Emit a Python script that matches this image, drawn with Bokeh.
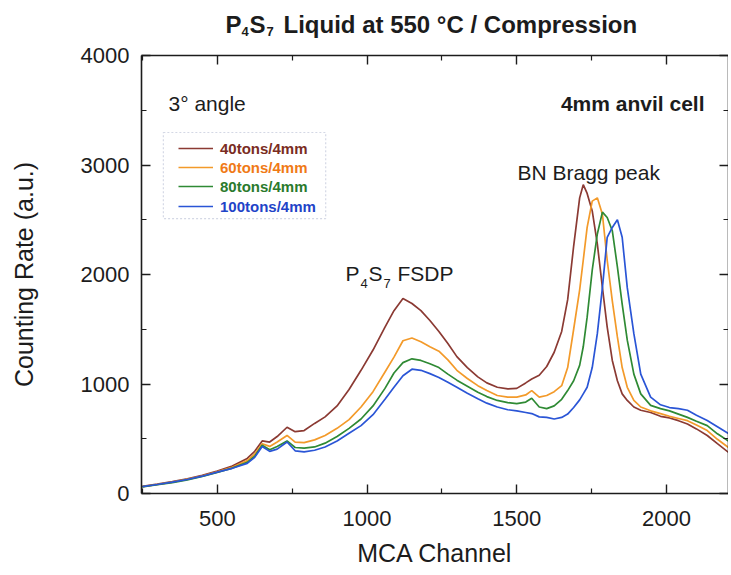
from bokeh.plotting import figure
from bokeh.models import (Label, Legend, LegendItem, LinearAxis, FixedTicker,
                          BoxAnnotation, Range1d)
from bokeh.embed import file_html
from bokeh.resources import INLINE

# ---------------- data ----------------
channels = [250, 300, 350, 400, 450, 500, 550, 600, 625, 650, 675, 700, 733, 760,
            790, 825, 860, 900, 940, 980, 1020, 1060, 1090, 1120, 1150, 1180, 1210,
            1240, 1270, 1300, 1335, 1370, 1400, 1435, 1470, 1500, 1530, 1550, 1575,
            1600, 1625, 1650, 1670, 1690, 1710, 1722, 1735, 1752, 1769, 1786, 1802,
            1819, 1836, 1852, 1869, 1891, 1914, 1947, 1980, 2010, 2040, 2070, 2100,
            2136, 2170, 2212]

tons40 = [65, 85, 108, 135, 165, 205, 250, 320, 385, 480, 470, 520, 605, 565,
          575, 640, 700, 800, 950, 1125, 1310, 1520, 1670, 1780, 1735, 1670, 1580,
          1480, 1370, 1250, 1150, 1065, 1010, 970, 955, 960, 1010, 1045, 1080,
          1160, 1290, 1480, 1770, 2260, 2700, 2820, 2740, 2580, 2280, 1880, 1520,
          1215, 1030, 910, 850, 790, 760, 740, 705, 690, 665, 635, 590,
          530, 455, 365]

tons60 = [62, 82, 104, 130, 160, 198, 240, 300, 360, 455, 430, 470, 530, 470,
          465, 490, 530, 595, 675, 790, 930, 1110, 1245, 1395, 1420, 1385, 1340,
          1300, 1220, 1125, 1050, 985, 940, 895, 880, 880, 900, 940, 880,
          895, 930, 985, 1150, 1500, 1860, 2130, 2430, 2670, 2700, 2550, 2130,
          1760, 1430, 1150, 970, 850, 790, 755, 730, 705, 685, 665, 625,
          575, 495, 410]

tons80 = [60, 80, 100, 125, 155, 192, 232, 285, 340, 440, 400, 430, 480, 420,
          415, 425, 460, 520, 595, 680, 800, 960, 1100, 1195, 1230, 1215, 1185,
          1150, 1090, 1035, 980, 925, 885, 850, 830, 820, 835, 870, 790,
          775, 800, 860, 940, 1030, 1170, 1340, 1610, 2040, 2370, 2570, 2520,
          2400, 2070, 1730, 1400, 1090, 910, 805, 775, 755, 725, 695, 660,
          620, 545, 470]

tons100 = [62, 82, 104, 128, 158, 195, 230, 275, 330, 430, 385, 405, 470, 390,
           380, 395, 425, 480, 550, 620, 720, 860, 970, 1075, 1135, 1125, 1095,
           1060, 1015, 970, 915, 865, 825, 790, 765, 755, 740, 730, 700,
           695, 680, 695, 725, 785, 855, 910, 970, 1150, 1460, 1880, 2340,
           2430, 2500, 2340, 1880, 1460, 1090, 880, 810, 785, 775, 760, 715,
           667, 610, 540]

series_names = ["40tons/4mm", "60tons/4mm", "80tons/4mm", "100tons/4mm"]
series_values = [tons40, tons60, tons80, tons100]
line_colors = ["#8b3a33", "#f39a2a", "#2f8a34", "#2a55d6"]
text_colors = ["#7a2c22", "#f07a16", "#2a7a2c", "#1f44c8"]

x_major = [500, 1000, 1500, 2000]
x_minor = [250, 750, 1250, 1750, 2250]
y_major = [0, 1000, 2000, 3000, 4000]
y_minor = [500, 1500, 2500, 3500]

# ---------------- layout (page pixels) ----------------
FONT = "Liberation Sans"
INK = "#1c1c1c"
FRAME_L, FRAME_T, FRAME_B, FRAME_R = 141, 55, 493, 728
TITLE_H = 42
TOTAL_W = 730

# --- title strip (separate small figure so the subscripts can be placed) ---
tf = figure(width=TOTAL_W, height=TITLE_H, x_range=Range1d(0, TOTAL_W),
            y_range=Range1d(0, TITLE_H), output_backend="svg", title=None,
            toolbar_location=None, x_axis_type=None, y_axis_type=None,
            min_border=0, outline_line_color=None,
            background_fill_color="white", border_fill_color="white")
tf.xgrid.visible = False
tf.ygrid.visible = False
# positions in screen pixels measured from the strip's bottom-left corner
for txt, px, up, sz in [("P", 225, 18.5, 24), ("4", 241, 11.5, 13), ("S", 249, 18.5, 24),
                        ("7", 266, 11.5, 13), ("Liquid at 550 °C / Compression", 283, 18.5, 24)]:
    tf.add_layout(Label(x=px, y=up, x_units="screen", y_units="screen", text=txt,
                        text_font=FONT, text_font_size=f"{sz}px",
                        text_font_style="bold", text_color=INK,
                        text_baseline="alphabetic"))

p = figure(frame_width=FRAME_R - FRAME_L, frame_height=FRAME_B - FRAME_T,
           x_range=Range1d(247, 2207), y_range=Range1d(0, 4000),
           output_backend="svg", toolbar_location=None,
           min_border_left=FRAME_L, min_border_top=FRAME_T - TITLE_H,
           min_border_right=0, min_border_bottom=0,
           background_fill_color="white", border_fill_color="white",
           outline_line_color=None)
p.xgrid.visible = False
p.ygrid.visible = False


def style_axis(ax, labels=True):
    ax.axis_line_color = INK
    ax.axis_line_width = 1.6
    ax.major_tick_line_color = INK
    ax.minor_tick_line_color = INK
    ax.major_tick_line_width = 1.4
    ax.minor_tick_line_width = 1.2
    ax.major_tick_in = 9
    ax.major_tick_out = 0
    ax.minor_tick_in = 5
    ax.minor_tick_out = 0
    ax.major_label_text_font = FONT
    ax.major_label_text_font_size = "22px"
    ax.major_label_text_color = INK
    ax.axis_label_text_font = FONT
    ax.axis_label_text_font_size = "25px"
    ax.axis_label_text_font_style = "normal"
    ax.axis_label_text_color = INK
    if not labels:
        ax.major_label_standoff = 0
        ax.major_label_text_font_size = "0px"


xt = FixedTicker(ticks=x_major, minor_ticks=x_minor)
yt = FixedTicker(ticks=y_major, minor_ticks=y_minor)

p.xaxis.ticker = xt
p.yaxis.ticker = yt
style_axis(p.xaxis[0])
style_axis(p.yaxis[0])
p.xaxis.axis_label = "MCA Channel"
p.yaxis.axis_label = "Counting Rate (a.u.)"
p.xaxis.major_label_standoff = 17
p.xaxis.axis_label_standoff = 10
p.yaxis.major_label_standoff = 12
p.yaxis.axis_label_standoff = 40

top_ax = LinearAxis(ticker=xt)
style_axis(top_ax, labels=False)
top_ax.major_label_overrides = {t: "" for t in x_major}
p.add_layout(top_ax, "above")

right_ax = LinearAxis(ticker=yt)
style_axis(right_ax, labels=False)
right_ax.major_label_overrides = {t: "" for t in y_major}
p.add_layout(right_ax, "right")

renderers = []
for vals, col in zip(series_values, line_colors):
    r = p.line(channels, vals, line_color=col, line_width=1.7)
    renderers.append(r)


# ---------------- annotations ----------------
def page_label(text, px, py, size, bold=False, color=INK, align="left"):
    return Label(x=px - FRAME_L, y=FRAME_B - py, x_units="screen", y_units="screen",
                 text=text, text_font=FONT, text_font_size=f"{size}px",
                 text_font_style="bold" if bold else "normal",
                 text_color=color, text_align=align, text_baseline="alphabetic")


p.add_layout(page_label("3° angle", 168, 103, 21))
p.add_layout(page_label("4mm anvil cell", 704, 103, 21, bold=True, align="right"))
p.add_layout(page_label("BN Bragg peak", 517, 172, 21))
for txt, px, py, sz in [("P", 345, 273, 21), ("4", 360, 283, 13), ("S", 368, 273, 21),
                        ("7", 383, 283, 13), ("FSDP", 397, 273, 21)]:
    p.add_layout(page_label(txt, px, py, sz))

# legend box (dotted frame)
p.add_layout(BoxAnnotation(left=320, right=862, top=3297, bottom=2511,
                           fill_alpha=0, line_color="#6f7fa8", line_width=1.2,
                           line_dash="2 2"))

row_centers = [148, 167, 186, 206]
for name, r, tc, cy in zip(series_names, renderers, text_colors, row_centers):
    leg = Legend(items=[LegendItem(label=name, renderers=[r])],
                 location=(178 - FRAME_L, FRAME_B - (cy + 9)),
                 padding=0, margin=0, spacing=0,
                 glyph_width=35, glyph_height=18, label_height=18,
                 label_standoff=7, border_line_color=None,
                 background_fill_alpha=0,
                 label_text_font=FONT, label_text_font_size="15px",
                 label_text_font_style="bold", label_text_color=tc,
                 label_text_baseline="middle")
    p.add_layout(leg)

open("out.html", "w").write(file_html([tf, p], INLINE))
